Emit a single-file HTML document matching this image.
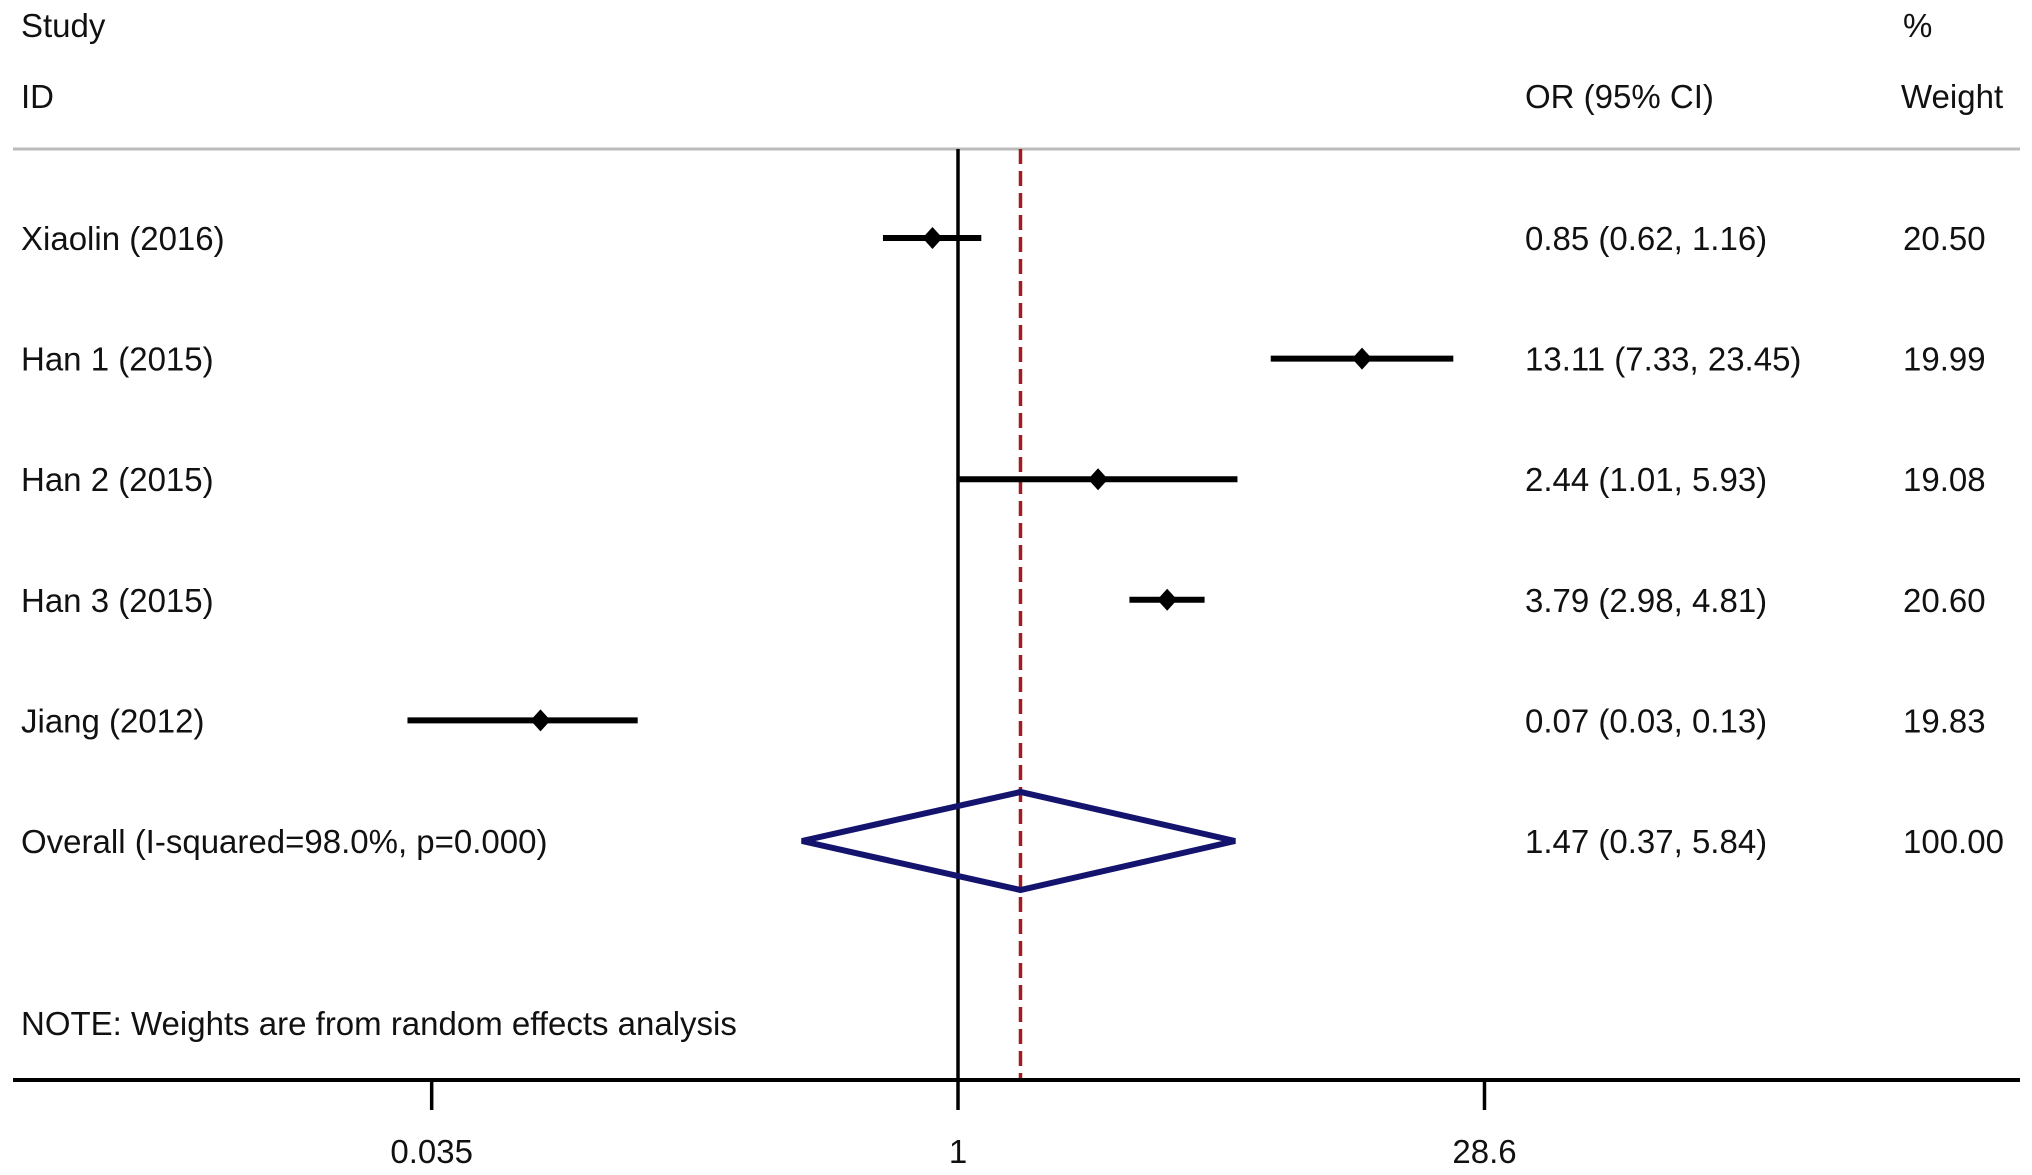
<!DOCTYPE html>
<html><head><meta charset="utf-8">
<style>
html,body{margin:0;padding:0;background:#fff;}
svg{display:block;font-family:"Liberation Sans",Arial,sans-serif;}
text{font-size:33px;fill:#111;}
</style></head>
<body>
<svg id="chart" width="2032" height="1175" viewBox="0 0 2032 1175">
<g id="g"></g>
</svg>
<script>
const studies = ["Xiaolin (2016)","Han 1 (2015)","Han 2 (2015)","Han 3 (2015)","Jiang (2012)"];
const orVals = [0.85, 13.11, 2.44, 3.79, 0.07];
const lowVals = [0.62, 7.33, 1.01, 2.98, 0.03];
const highVals = [1.16, 23.45, 5.93, 4.81, 0.13];
const ciLabels = ["0.85 (0.62, 1.16)","13.11 (7.33, 23.45)","2.44 (1.01, 5.93)","3.79 (2.98, 4.81)","0.07 (0.03, 0.13)"];
const weights = ["20.50","19.99","19.08","20.60","19.83"];
const overall = [1.47, 0.37, 5.84];
const overallLabel = "1.47 (0.37, 5.84)";
const overallWeight = "100.00";
const ticks = [0.035, 1, 28.6];
const tickLabels = ["0.035","1","28.6"];

const NS="http://www.w3.org/2000/svg";
const g=document.getElementById('g');
const x0=958, k=157;
function xs(v){return x0+k*Math.log(v);}
function rowY(i){return 238+i*120.6;}
function mk(tag,attrs,txt){const e=document.createElementNS(NS,tag);for(const a in attrs)e.setAttribute(a,attrs[a]);if(txt!==undefined)e.textContent=txt;g.appendChild(e);return e;}

let e;
e=mk('text',{x:21,y:37},'Study');


e=mk('text',{x:21,y:108},'ID');


e=mk('text',{x:1525,y:108},'OR (95% CI)');


e=mk('text',{x:1903,y:37},'%');


e=mk('text',{x:1901,y:108},'Weight');


e=mk('line',{x1:13,x2:2020,y1:149,y2:149,stroke:'#bbb','stroke-width':3});



e=mk('line',{x1:xs(1),x2:xs(1),y1:149,y2:1080,stroke:'#000','stroke-width':3.5});


e=mk('line',{x1:xs(overall[0])+2,x2:xs(overall[0])+2,y1:149,y2:1080,stroke:'#a01c22','stroke-width':3.5,'stroke-dasharray':'15,7'});



studies.forEach((s,i)=>{
  const y=rowY(i);
  let t=mk('text',{x:21,y:y+12},s);
  
  
  let l=mk('line',{x1:xs(lowVals[i]),x2:xs(highVals[i]),y1:y,y2:y,stroke:'#000','stroke-width':6});
  
  
  const cx=xs(orVals[i]);
  let d=mk('path',{d:`M${cx-10},${y} L${cx},${y-11} L${cx+10},${y} L${cx},${y+11} Z`,fill:'#000'});
  
  
  let c=mk('text',{x:1525,y:y+12},ciLabels[i]);
  
  
  let w=mk('text',{x:1903,y:y+12},weights[i]);
  
  
});

const oy=rowY(5);
e=mk('text',{x:21,y:oy+12},'Overall (I-squared=98.0%, p=0.000)');


const dl=xs(overall[1]), dc=xs(overall[0])+2, dr=xs(overall[2]);
e=mk('path',{d:`M${dl},${oy} L${dc},${oy-49} L${dr},${oy} L${dc},${oy+49} Z`,fill:'none',stroke:'#14146e','stroke-width':6});


e=mk('text',{x:1525,y:oy+12},overallLabel);


e=mk('text',{x:1903,y:oy+12},overallWeight);



e=mk('text',{x:21,y:1035},'NOTE: Weights are from random effects analysis');



e=mk('line',{x1:13,x2:2020,y1:1080,y2:1080,stroke:'#000','stroke-width':4});


ticks.forEach((v,i)=>{
  let t=mk('line',{x1:xs(v),x2:xs(v),y1:1080,y2:1110,stroke:'#000','stroke-width':3.5});
  
  
  let l=mk('text',{x:xs(v),y:1163,'text-anchor':'middle'},tickLabels[i]);
  
  
});
</script>
</body></html>
